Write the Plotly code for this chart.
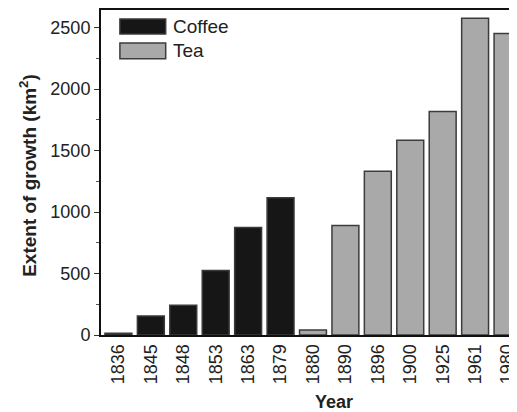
import plotly.graph_objects as go

years = ["1836", "1845", "1848", "1853", "1863", "1879", "1880",
         "1890", "1896", "1900", "1925", "1961", "1980"]
coffee_years = ["1836", "1845", "1848", "1853", "1863", "1879"]
coffee_vals = [15, 155, 242, 524, 874, 1117]
tea_years = ["1880", "1890", "1896", "1900", "1925", "1961", "1980"]
tea_vals = [41, 891, 1331, 1583, 1817, 2575, 2451]

# page has an 8px body margin; figure coords = page coords - 8
OFF = 8
W, H = 517 - OFF, 412 - OFF
ML, MR, MT = 101 - OFF, 0, 1
MB = H - (335 - OFF)
PW, PH = W - ML - MR, H - MT - MB

def px(x):
    return (x - OFF - ML) / PW

def py(y):
    return (H - MB - (y - OFF)) / PH

fig = go.Figure()
fig.add_trace(go.Bar(x=coffee_years, y=coffee_vals, name="Coffee",
                     marker=dict(color="#161616", line=dict(color="#3a3a3a", width=1.5))))
fig.add_trace(go.Bar(x=tea_years, y=tea_vals, name="Tea",
                     marker=dict(color="#a9a9a9", line=dict(color="#3c3c3c", width=1.5))))

font = "Liberation Sans, Arial, sans-serif"
fig.update_layout(
    width=W, height=H,
    margin=dict(l=ML, r=MR, t=MT, b=MB, pad=0),
    plot_bgcolor="white", paper_bgcolor="white",
    barmode="overlay", bargap=0.17, showlegend=False,
    font=dict(family=font, size=18, color="#222"),
    xaxis=dict(type="category", categoryorder="array", categoryarray=years,
               range=[-0.537, 12.23], showline=True, linecolor="#111", linewidth=2,
               mirror=True, ticks="", tickangle=-90, showgrid=False,
               tickfont=dict(size=18, color="#222")),
    yaxis=dict(range=[0, 2643], showline=True, linecolor="#111", linewidth=2,
               ticks="outside", ticklen=5, tickwidth=1.2, tickcolor="#333",
               tickvals=[0, 500, 1000, 1500, 2000, 2500], showgrid=False,
               zeroline=False, tickfont=dict(size=18, color="#222"),
               minor=dict(ticks="outside", ticklen=3, tickcolor="#555", dtick=250,
                          showgrid=False)),
)

# custom legend
fig.add_shape(type="rect", xref="paper", yref="paper",
              x0=px(120), x1=px(166), y0=py(33), y1=py(18),
              fillcolor="#161616", line=dict(color="#3a3a3a", width=1.5))
fig.add_shape(type="rect", xref="paper", yref="paper",
              x0=px(120), x1=px(166), y0=py(58), y1=py(42),
              fillcolor="#a9a9a9", line=dict(color="#3c3c3c", width=1.5))
fig.add_annotation(text="Coffee", xref="paper", yref="paper", x=px(171), y=py(25.5),
                   xanchor="left", yanchor="middle", showarrow=False,
                   font=dict(size=19, color="#222"))
fig.add_annotation(text="Tea", xref="paper", yref="paper", x=px(171), y=py(50),
                   xanchor="left", yanchor="middle", showarrow=False,
                   font=dict(size=19, color="#222"))
fig.add_annotation(text="<b>Year</b>", xref="paper", yref="paper", x=px(335), y=py(402),
                   xanchor="center", yanchor="middle", showarrow=False,
                   font=dict(size=18, color="#222"))
fig.add_annotation(text="<b>Extent of growth (km<sup>2</sup>)</b>", xref="paper", yref="paper",
                   x=px(28), y=py(175), xanchor="center", yanchor="middle", textangle=-90,
                   showarrow=False, font=dict(size=19, color="#222"))

fig.write_html("out.html")
